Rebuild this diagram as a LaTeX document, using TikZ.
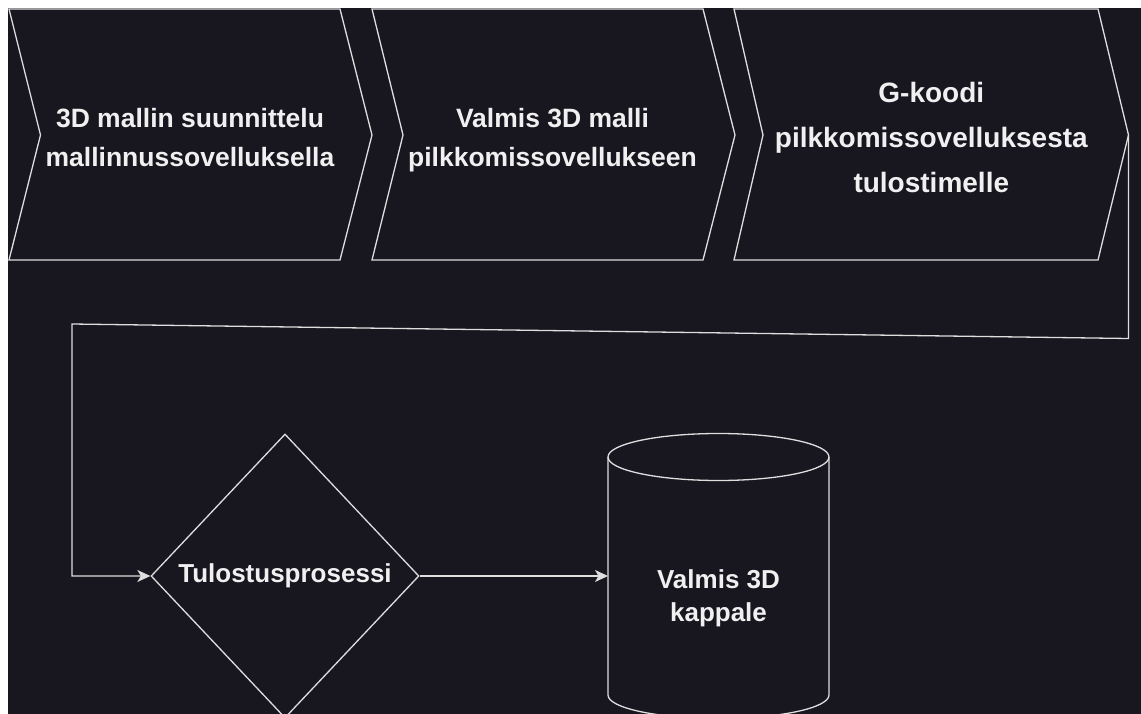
\documentclass[tikz,border=0pt]{standalone}
\usepackage{fontspec}
\setmainfont{Liberation Sans}
\usetikzlibrary{shapes.geometric,arrows.meta}
\definecolor{bg}{RGB}{24,22,31}
\definecolor{ln}{RGB}{222,222,222}
\definecolor{tx}{RGB}{240,240,240}
\begin{document}
\begin{tikzpicture}[x=1pt,y=-1pt,
  shapeline/.style={draw=ln,line width=1.3pt,line join=miter},
  lbl/.style={text=tx,font=\bfseries\fontsize{26.5}{39}\selectfont,align=center,inner sep=0pt},
  lblbig/.style={text=tx,font=\bfseries\fontsize{28}{45}\selectfont,align=center,inner sep=0pt},
  lblcyl/.style={text=tx,font=\bfseries\fontsize{26}{33}\selectfont,align=center,inner sep=0pt},
  decision/.style={diamond,draw=ln,line width=1.3pt,minimum width=268pt,minimum height=284pt,inner sep=0pt,text=tx,font=\bfseries\fontsize{26}{31}\selectfont},
  conn/.style={draw=ln,line width=1.3pt},
  tipend/.style={-{Stealth[length=13pt,width=12pt,inset=3.5pt]}}]
\useasboundingbox (0,0) rectangle (1141,714);
\fill[white] (0,0) rectangle (1141,714);
\fill[bg] (8,8) rectangle (1141,714);
% chevrons
\draw[shapeline] (9,9) -- (340,9) -- (372,135) -- (340,260) -- (9,260) -- (40.5,135) -- cycle;
\draw[shapeline] (372,9) -- (703,9) -- (735,135) -- (703,260) -- (372,260) -- (403,135) -- cycle;
\draw[shapeline] (734,9) -- (1098,9) -- (1128.5,135) -- (1098,260) -- (734,260) -- (763,135) -- cycle;
\coordinate (c3tip) at (1128.5,135);
\node[lbl] (t1) at (190,137.5) {3D mallin suunnittelu\\mallinnussovelluksella};
\node[lbl] (t2) at (552.5,140) {Valmis 3D malli\\pilkkomissovellukseen};
\node[lblbig] (t3) at (931.3,137.2) {G-koodi\\pilkkomissovelluksesta\\tulostimelle};
% decision
\node[decision] (dia) at (285,576) {Tulostusprosessi};
% cylinder
\draw[shapeline] (608,457) -- (608,695) arc[start angle=180,end angle=360,x radius=110.5pt,y radius=23.5pt] -- (829,457);
\draw[shapeline] (718.5,457) ellipse[x radius=110.5pt,y radius=23.5pt];
\node[lblcyl] (cyl) at (718.5,598) {Valmis 3D\\kappale};
\coordinate (cylin) at (608,576);
% connectors
\coordinate (b1) at (1128.5,338.5);
\coordinate (b2) at (72,324);
\coordinate (b3) at (72,576);
\draw[conn,tipend] (c3tip) -- (b1) -- (b2) -- (b3) -- (dia.west);
\draw[conn,tipend] (dia.east) -- (cylin);
\end{tikzpicture}
\end{document}
